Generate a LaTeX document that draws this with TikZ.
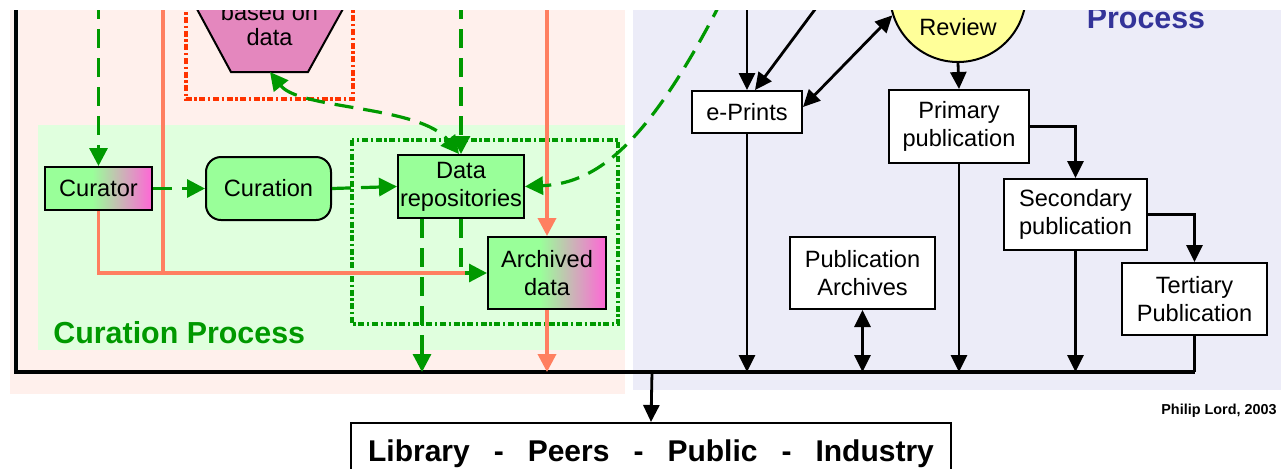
\documentclass[tikz,border=0pt]{standalone}
\usepackage{fontspec}
\setmainfont{Liberation Sans}
\usetikzlibrary{arrows.meta}
\definecolor{pinkbg}{RGB}{255,240,236}
\definecolor{lavbg}{RGB}{236,236,248}
\definecolor{greenbg}{RGB}{224,255,222}
\definecolor{boxgreen}{RGB}{153,255,153}
\definecolor{gpink}{RGB}{255,102,214}
\definecolor{trapfill}{RGB}{228,135,190}
\definecolor{salmon}{RGB}{255,127,96}
\definecolor{dgreen}{RGB}{0,153,0}
\definecolor{redorange}{RGB}{255,51,0}
\definecolor{revyellow}{RGB}{255,255,153}
\definecolor{procblue}{RGB}{51,51,153}
\pgfdeclarehorizontalshading{gp}{100bp}{color(0bp)=(boxgreen); color(25bp)=(boxgreen); color(47bp)=(boxgreen); color(75bp)=(gpink); color(100bp)=(gpink)}
\newcommand\fsz{\fontsize{11.8}{14}\selectfont}
\begin{document}
\begin{tikzpicture}[x=0.5pt,y=-0.5pt,
  box/.style={draw=black,line width=1pt,fill=boxgreen,inner sep=0pt,align=center,font=\fsz},
  gradbox/.style={draw=black,line width=1pt,shading=gp,inner sep=0pt,align=center,font=\fsz},
  wbox/.style={draw=black,line width=1pt,fill=white,inner sep=0pt,align=center,font=\fsz},
  glink/.style={draw=dgreen,line width=1.6pt,dash pattern=on 9.5pt off 5pt},
  gtip/.style={-{Triangle[length=9pt,width=9pt]}},
  gtips/.style={{Triangle[length=9pt,width=9pt]}-{Triangle[length=9pt,width=9pt]}},
  slink/.style={draw=salmon,line width=1.8pt},
  stip/.style={-{Triangle[length=9pt,width=9pt]}},
  blink/.style={draw=black,line width=1.4pt},
  btip/.style={-{Triangle[length=8.5pt,width=8pt]}},
  btips/.style={{Triangle[length=8.5pt,width=8pt]}-{Triangle[length=8.5pt,width=8pt]}},
  dotbox/.style={line width=1.7pt,dash pattern=on 3pt off 1.3pt on 1.2pt off 1.3pt}
]
\useasboundingbox (0,0) rectangle (1281,468);
% backgrounds
\fill[pinkbg] (10,10) rectangle (625,394);
\fill[lavbg] (633,10) rectangle (1281,390);
\fill[greenbg] (38,125) rectangle (625,350);
% enclosing dotted frames
\draw[dotbox,draw=redorange] (186,-10) rectangle (353,99);
\draw[dotbox,draw=dgreen] (352,140) rectangle (618,324);
% trapezoid
\draw[fill=trapfill,line width=1pt] (191,-2) -- (349,-2) -- (308,72) -- (231,72) -- cycle;
\coordinate (trapb) at (270,72);
\node[font=\fsz,anchor=base] (tbased) at (269.5,20) {based on};
\node[font=\fsz,anchor=base] (tdata) at (269.5,45) {data};
% coordinates
\coordinate (ml) at (0,372);
\coordinate (lt) at (16,10);
\coordinate (g1top) at (98.5,0);
\coordinate (g2top) at (461,0);
\coordinate (g3top) at (722,0);
\coordinate (s1top) at (163,0);
\coordinate (s2top) at (547,0);
\coordinate (eptop) at (747,0);
\coordinate (diagtop) at (822,0);
\coordinate (mlout) at (652,372);
% nodes
\node[gradbox,minimum width=53.5pt,minimum height=21.5pt] (curator) at (98.5,188.5) {Curator};
\node[box,rounded corners=7.5pt,minimum width=62.5pt,minimum height=31.5pt] (curation) at (268.5,188.5) {Curation};
\node[box,minimum width=63pt,minimum height=31.5pt] (datarep) at (461,186.5) {Data\\repositories};
\node[gradbox,minimum width=59pt,minimum height=36pt] (archived) at (547,273) {Archived\\data};
\node[wbox,minimum width=55pt,minimum height=21pt] (eprints) at (747,112) {e-Prints};
\node[draw=black,line width=1pt,fill=revyellow,circle,minimum size=68pt,inner sep=0pt] (review) at (958,-6) {};
\node[font=\fsz] (revtext) at (958,27) {Review};
\node[wbox,minimum width=70pt,minimum height=36.5pt] (primary) at (959,126.5) {Primary\\publication};
\node[wbox,minimum width=71.5pt,minimum height=35.5pt] (secondary) at (1075.5,214.5) {Secondary\\publication};
\node[wbox,minimum width=72.5pt,minimum height=36pt] (tertiary) at (1194.5,299) {Tertiary\\Publication};
\node[wbox,minimum width=72.5pt,minimum height=36pt] (pubarch) at (862.5,273) {Publication\\Archives};
\node[wbox,minimum width=300pt,minimum height=31pt,font=\fontsize{15}{18}\selectfont\bfseries] (library) at (651,454)
  {Library\hspace{12pt}-\hspace{12pt}Peers\hspace{12pt}-\hspace{12pt}Public\hspace{12pt}-\hspace{12pt}Industry};
% labels
\node[font=\fontsize{15.2}{18}\selectfont\bfseries,text=dgreen,anchor=base west,inner sep=0pt] (curproc) at (53,343) {Curation Process};
\node[font=\fontsize{15.2}{18}\selectfont\bfseries,text=procblue,anchor=base,inner sep=0pt] (pubproc) at (1146,28) {Process};
\node[font=\fontsize{7.2}{9}\selectfont\bfseries,anchor=base east,inner sep=0pt] (credit) at (1277,414) {Philip Lord, 2003};
% main black line
\draw[line width=2.2pt,line join=miter] (lt) -- (16,372) -- (tertiary.south |- ml);
\draw[blink] (tertiary.south) -- (tertiary.south |- ml);
\draw[blink,btip] (mlout) -- (library.north);
% black connectors
\draw[blink,btip] (eptop) -- (eprints.north);
\draw[blink,btip] (diagtop) -- ([xshift=4pt]eprints.north);
\draw[blink,btips] ([yshift=2.5pt]eprints.east) -- (review.198);
\draw[blink,btip] (review.south) -- (primary.north);
\draw[blink,btip] (primary.east) -| (secondary.north);
\draw[blink,btip] (secondary.east) -| (tertiary.north);
\draw[blink,btip] (eprints.south) -- (eprints.south |- ml);
\draw[blink,btip] (primary.south) -- (primary.south |- ml);
\draw[blink,btip] (secondary.south) -- (secondary.south |- ml);
\draw[blink,btips] (pubarch.south) -- (pubarch.south |- ml);
% salmon connectors
\draw[slink] (curator.south) |- ([xshift=-8pt]archived.west);
\draw[slink] (s1top) -- (s1top |- archived.west);
\draw[slink,stip,salmon] (s2top) -- (archived.north);
\draw[slink,stip,salmon] (archived.south) -- (archived.south |- ml);
% green connectors
\draw[glink,gtip,dgreen] (g1top) -- (curator.north);
\draw[glink,gtip,dgreen] (curator.east) -- (curation.west);
\draw[glink,gtip,dgreen] (curation.east) -- (datarep.west);
\draw[glink,gtip,dgreen] (g2top) -- (datarep.north);
\draw[glink,gtips,dgreen] (trapb) .. controls (300,110) and (420,105) .. ([xshift=-1pt]datarep.north);
\draw[glink,gtip,dgreen] ([xshift=-19.5pt]datarep.south) -- ([xshift=-19.5pt]datarep.south |- ml);
\draw[glink,gtip,dgreen] (datarep.south) |- (archived.west);
\draw[glink,gtip,dgreen] (g3top) .. controls (650,140) and (600,183) .. (datarep.east);
% top white strip (title area cut off)
\fill[white] (0,0) rectangle (1281,10);
\end{tikzpicture}
\end{document}
